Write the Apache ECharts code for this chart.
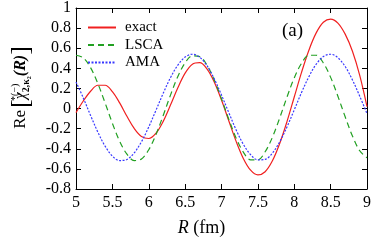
<!DOCTYPE html>
<html><head><meta charset="utf-8">
<script src="https://cdn.jsdelivr.net/npm/echarts@6/dist/echarts.min.js"></script>
<style>html,body{margin:0;padding:0;background:#fff}#c{width:374px;height:242px}</style>
</head><body><div id="c"></div>
<script>
var R = [5.0,5.1,5.2,5.3,5.4,5.5,5.6,5.7,5.8,5.9,6.0,6.1,6.2,6.3,6.4,6.5,6.6,6.7,6.8,6.9,7.0,7.1,7.2,7.3,7.4,7.5,7.6,7.7,7.8,7.9,8.0,8.1,8.2,8.3,8.4,8.5,8.6,8.7,8.8,8.9,9.0];
var exact = [-0.04,0.075,0.172,0.232,0.232,0.168,0.056,-0.077,-0.198,-0.278,-0.298,-0.245,-0.125,0.037,0.207,0.352,0.441,0.456,0.395,0.265,0.085,-0.121,-0.324,-0.496,-0.613,-0.66,-0.628,-0.52,-0.348,-0.13,0.115,0.36,0.578,0.75,0.858,0.89,0.85,0.74,0.57,0.33,0.02];
var lsca = [0.53,0.505,0.407,0.249,0.056,-0.146,-0.325,-0.454,-0.517,-0.501,-0.41,-0.257,-0.066,0.136,0.319,0.455,0.524,0.516,0.432,0.285,0.096,-0.106,-0.292,-0.433,-0.51,-0.51,-0.43,-0.285,-0.094,0.114,0.305,0.45,0.53,0.53,0.453,0.31,0.122,-0.082,-0.273,-0.42,-0.49];
var ama = [0.265,0.106,-0.068,-0.234,-0.374,-0.472,-0.517,-0.506,-0.441,-0.33,-0.183,-0.016,0.154,0.309,0.432,0.512,0.54,0.511,0.427,0.296,0.134,-0.04,-0.21,-0.355,-0.459,-0.51,-0.505,-0.443,-0.331,-0.183,-0.013,0.159,0.315,0.439,0.517,0.54,0.505,0.418,0.285,0.123,-0.05];
var seriesNames = ['exact','LSCA','AMA'];
var xTicks = {min:5, max:9, interval:0.5};
var yTicks = {min:-0.8, max:1, interval:0.2};

function pairs(ys){return R.map(function(x,i){return [x, ys[i]];});}
var F = 'Liberation Serif';
var chart = echarts.init(document.getElementById('c'), null, {renderer:'canvas'});
var axLine = {show:true, onZero:false, lineStyle:{color:'#000', width:1}};
var tick = {show:true, inside:true, length:5, lineStyle:{color:'#000', width:1}};
chart.setOption({
  animation:false,
  grid:{left:59, right:4, top:6, bottom:45, containLabel:false},
  legend:{
    left:82, top:15, orient:'vertical', itemWidth:28, itemHeight:14, itemGap:2.5,
    itemStyle:{opacity:0},
    textStyle:{fontFamily:F, fontSize:15, color:'#000', padding:[0,0,0,4]},
    data:seriesNames
  },
  xAxis:[
    {type:'value', min:xTicks.min, max:xTicks.max, interval:xTicks.interval,
     axisLine:axLine, axisTick:tick, splitLine:{show:false},
     axisLabel:{fontFamily:F, fontSize:16, color:'#000', margin:6},
     name:'{i|R} (fm)', nameLocation:'middle', nameGap:30,
     nameTextStyle:{fontFamily:F, fontSize:18, color:'#000', padding:[0,40,0,0],
       rich:{i:{fontFamily:F, fontStyle:'italic', fontSize:18, color:'#000'}}}},
    {type:'value', position:'top', min:xTicks.min, max:xTicks.max, interval:xTicks.interval,
     axisLine:axLine, axisTick:tick, axisLabel:{show:false}, splitLine:{show:false}}
  ],
  yAxis:[
    {type:'value', min:yTicks.min, max:yTicks.max, interval:yTicks.interval,
     axisLine:axLine, axisTick:tick, splitLine:{show:false},
     axisLabel:{fontFamily:F, fontSize:16, color:'#000', margin:5},
     name:'{re|Re}{br|[}{chi|χ}{sup|*(−)}{sub|2,κ₂}{r|(R)}{br|]}',
     nameLocation:'middle', nameRotate:90, nameGap:42,
     nameTextStyle:{fontFamily:F, fontSize:16, color:'#000', padding:[0,0,0,22],
       rich:{
         re:{fontFamily:F, fontSize:17, color:'#000', padding:[0,2,0,0]},
         br:{fontFamily:F, fontSize:26, color:'#000'},
         chi:{fontFamily:F, fontSize:16, fontStyle:'italic', color:'#000'},
         sup:{fontFamily:F, fontSize:10, color:'#000', width:0, padding:[0,0,12,0]},
         sub:{fontFamily:F, fontSize:10, color:'#000', fontWeight:'bold', padding:[10,0,0,0]},
         r:{fontFamily:F, fontSize:16, fontWeight:'bold', fontStyle:'italic', color:'#000'}
       }}},
    {type:'value', position:'right', min:yTicks.min, max:yTicks.max, interval:yTicks.interval,
     axisLine:axLine, axisTick:tick, axisLabel:{show:false}, splitLine:{show:false}}
  ],
  graphic:[{type:'text', left:282, top:22, style:{text:'(a)', fontFamily:F, fontSize:19, fill:'#000'}}],
  series:[
    {name:seriesNames[0], type:'line', data:pairs(exact), smooth:0.35, showSymbol:false, symbol:'none',
     lineStyle:{color:'#f02020', width:1.2, type:'solid'}, itemStyle:{color:'#f02020'}},
    {name:seriesNames[1], type:'line', data:pairs(lsca), smooth:0.35, showSymbol:false, symbol:'none',
     lineStyle:{color:'#22a022', width:1.2, type:[6,4]}, itemStyle:{color:'#22a022'}},
    {name:seriesNames[2], type:'line', data:pairs(ama), smooth:0.35, showSymbol:false, symbol:'none',
     lineStyle:{color:'#3838ff', width:1.2, type:[2,1.5]}, itemStyle:{color:'#3838ff'}}
  ]
});
</script></body></html>
